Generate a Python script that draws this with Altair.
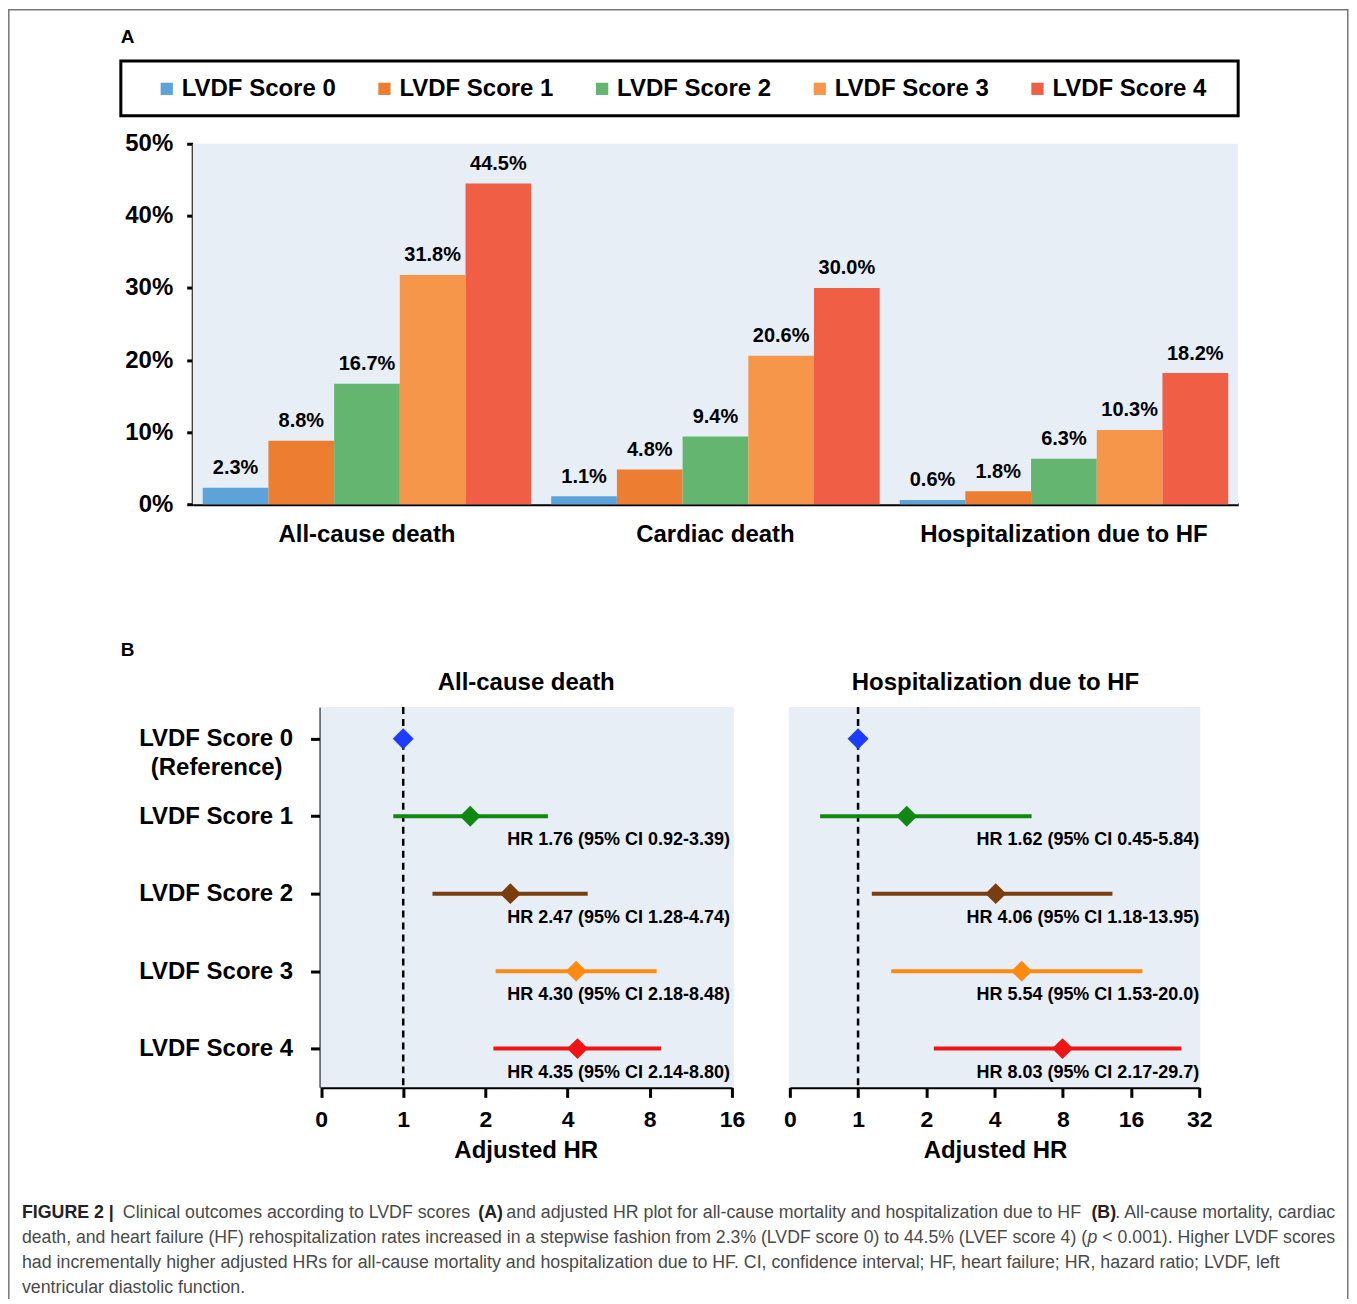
import json
import altair as alt
import pandas as pd

# ---------------- data ----------------
outcomes = ["All-cause death", "Cardiac death", "Hospitalization due to HF"]
scores = ["LVDF Score 0", "LVDF Score 1", "LVDF Score 2", "LVDF Score 3", "LVDF Score 4"]
rate_allcause = [2.3, 8.8, 16.7, 31.8, 44.5]
rate_cardiac = [1.1, 4.8, 9.4, 20.6, 30.0]
rate_hosp = [0.6, 1.8, 6.3, 10.3, 18.2]
y_ticks_pct = [0, 10, 20, 30, 40, 50]

rows = [0, 1, 2, 3, 4]
acd_hr = [1.0, 1.76, 2.47, 4.30, 4.35]
acd_lo = [None, 0.92, 1.28, 2.18, 2.14]
acd_hi = [None, 3.39, 4.74, 8.48, 8.80]
acd_text = ["", "HR 1.76 (95% CI 0.92-3.39)", "HR 2.47 (95% CI 1.28-4.74)",
            "HR 4.30 (95% CI 2.18-8.48)", "HR 4.35 (95% CI 2.14-8.80)"]
hf_hr = [1.0, 1.64, 4.05, 5.27, 7.98]
hf_lo = [None, 0.68, 1.15, 1.40, 2.16]
hf_hi = [None, 5.83, 13.25, 17.96, 26.7]
hf_text = ["", "HR 1.62 (95% CI 0.45-5.84)", "HR 4.06 (95% CI 1.18-13.95)",
           "HR 5.54 (95% CI 1.53-20.0)", "HR 8.03 (95% CI 2.17-29.7)"]
x_ticks_acd = [0.5, 1, 2, 4, 8, 16]
x_ticks_hf = [0.5, 1, 2, 4, 8, 16, 32]

caption_1 = ["FIGURE 2 |", "Clinical outcomes according to LVDF scores", "(A)",
             "and adjusted HR plot for all-cause mortality and hospitalization due to HF", "(B)",
             ". All-cause mortality, cardiac"]
caption_2 = ["death, and heart failure (HF) rehospitalization rates increased in a stepwise fashion from 2.3% (LVDF score 0) to 44.5% (LVEF score 4) (",
             "p", "< 0.001). Higher LVDF scores"]
caption_3 = "had incrementally higher adjusted HRs for all-cause mortality and hospitalization due to HF. CI, confidence interval; HF, heart failure; HR, hazard ratio; LVDF, left"
caption_4 = "ventricular diastolic function."

bar_colors = ["#5ba3d9", "#ed7d31", "#63b56f", "#f5964a", "#ef5e45"]
forest_colors = ["#1c3cff", "#118811", "#7a3d0e", "#ff8a12", "#f01414"]
BG = "#e8eef6"
FONT = "Liberation Sans"

# ---------------- tables ----------------
bar_rows = []
for o, vals in zip(outcomes, [rate_allcause, rate_cardiac, rate_hosp]):
    for s, v in zip(scores, vals):
        bar_rows.append({"outcome": o, "score": s, "rate": v, "label": f"{v:.1f}%"})
bar_df = pd.DataFrame(bar_rows)

acd_df = pd.DataFrame({"row": rows, "score": scores, "hr": acd_hr, "lo": acd_lo, "hi": acd_hi, "text": acd_text})
hf_df = pd.DataFrame({"row": rows, "score": scores, "hr": hf_hr, "lo": hf_lo, "hi": hf_hi, "text": hf_text})

# ---------------- layout helpers ----------------
W, H = 1343, 1292


def X(v):
    return v - 8


def Y(v):
    return v - 8


dummy = pd.DataFrame({"k": [0]})


def txt(s, x, y, size, weight="bold", align="left", color="black", style="normal"):
    return alt.Chart(dummy).mark_text(
        text=s, align=align, baseline="middle", fontSize=size, fontWeight=weight,
        fontStyle=style, color=color, font=FONT
    ).encode(x=alt.value(X(x)), y=alt.value(Y(y)))


def rect(x0, x1, y0, y1, fill=None, stroke=None, sw=0):
    kw = dict(fill=fill) if fill else dict(fillOpacity=0)
    if stroke:
        kw.update(stroke=stroke, strokeWidth=sw)
    return alt.Chart(dummy).mark_rect(**kw).encode(
        x=alt.value(X(x0)), x2=alt.value(X(x1)), y=alt.value(Y(y0)), y2=alt.value(Y(y1)))


layers = []

# outer frame
layers.append(alt.Chart(dummy).mark_rule(color="#777777", strokeWidth=1.5).encode(
    x=alt.value(0.8), y=alt.value(0), y2=alt.value(H)))
layers.append(alt.Chart(dummy).mark_rule(color="#777777", strokeWidth=1.5).encode(
    x=alt.value(0.8), x2=alt.value(W - 1.2), y=alt.value(0.8)))
layers.append(alt.Chart(dummy).mark_rule(color="#777777", strokeWidth=1.5).encode(
    x=alt.value(W - 1.2), y=alt.value(0), y2=alt.value(H)))

# ---------------- panel A ----------------
layers.append(txt("A", 121, 36, 19))
layers.append(rect(121, 1240, 60, 115, stroke="black", sw=3))
layers.append(rect(193, 1240, 143, 504, fill=BG))

xb = alt.Scale(domain=outcomes, range=[X(193), X(1240)], paddingInner=0.0573, paddingOuter=0.0287)
xo = alt.Scale(domain=scores, paddingInner=0, paddingOuter=0)
xo_text = alt.Scale(type="point", domain=scores, padding=0.5)
yb = alt.Scale(domain=[0, 50], range=[Y(504), Y(143)], nice=False, zero=True)

bars = alt.Chart(bar_df).mark_bar().encode(
    x=alt.X("outcome:N", scale=xb, sort=outcomes, axis=alt.Axis(
        orient="bottom", offset=Y(504) - H, title=None, labelAngle=0, labelFontSize=24,
        labelFontWeight="bold", labelColor="black", labelPadding=18, ticks=False, tickSize=0,
        domainWidth=3, domainColor="black", labelLimit=500)),
    xOffset=alt.XOffset("score:N", scale=xo, sort=scores),
    y=alt.Y("rate:Q", scale=yb, axis=alt.Axis(
        orient="left", offset=-X(193), values=y_ticks_pct, labelExpr="datum.value + '%'",
        title=None, tickSize=6, tickWidth=3, domainWidth=3, labelPadding=14,
        labelFontSize=24, labelFontWeight="bold")),
    color=alt.Color("score:N", scale=alt.Scale(domain=scores, range=bar_colors), legend=alt.Legend(
        orient="none", legendX=X(155), legendY=Y(88) - 12, direction="horizontal", columns=5,
        title=None, symbolType="square", symbolSize=150, symbolStrokeWidth=0,
        labelFontSize=24, labelFontWeight="bold", labelColor="black", labelFont=FONT,
        labelOffset=3, columnPadding=36, labelLimit=400, padding=0)),
)
bar_labels = alt.Chart(bar_df).mark_text(
    dy=-19.5, baseline="middle", fontSize=20, fontWeight="bold", color="black", font=FONT
).encode(
    x=alt.X("outcome:N", scale=xb, sort=outcomes, axis=None),
    xOffset=alt.XOffset("score:N", scale=xo_text, sort=scores),
    y=alt.Y("rate:Q", scale=yb, axis=None),
    text="label:N",
)
layers += [bars, bar_labels]

# ---------------- panel B ----------------
layers.append(txt("B", 121, 650, 19))
layers.append(rect(321, 735, 707, 1088, fill=BG))
layers.append(rect(790, 1202, 707, 1088, fill=BG))
layers.append(txt("All-cause death", 527, 683, 24, align="center"))
layers.append(txt("Hospitalization due to HF", 997, 683, 24, align="center"))
layers.append(txt("Adjusted HR", 527, 1152, 24, align="center"))
layers.append(txt("Adjusted HR", 997, 1152, 24, align="center"))

yl = alt.Scale(domain=[-0.41, 4.5], range=[Y(707), Y(1088)], nice=False, zero=False)
xl = alt.Scale(type="log", base=2, domain=[0.5, 16], range=[X(321.5), X(733)], nice=False)
xr = alt.Scale(type="log", base=2, domain=[0.5, 32], range=[X(791), X(1201)], nice=False)
fcol = alt.Scale(domain=scores, range=forest_colors)

tick_expr = "datum.value < 0.9 ? '0' : format(datum.value, 'd')"
row_expr = json.dumps(scores) + "[datum.value]"


def xaxis(values):
    return alt.Axis(orient="bottom", offset=Y(1088) - H, values=values, labelExpr=tick_expr,
                    title=None, tickSize=10, tickWidth=3, domainWidth=3, labelPadding=11,
                    labelFontSize=23, labelFontWeight="bold", labelFlush=False, labelOverlap=False)


yaxis_left = alt.Axis(orient="left", offset=-X(321), values=rows, labelExpr=row_expr,
                      labelAlign="center", labelBaseline="middle", labelPadding=95, tickSize=10,
                      tickWidth=3, domainWidth=3, labelFontSize=24, labelFontWeight="bold",
                      title=None, labelLimit=400)


def forest(df, xs, xticks, yaxis, label_x):
    ref = alt.Chart(df).transform_filter("datum.row == 0").mark_rule(
        strokeDash=[7, 5], strokeWidth=2.5, color="black"
    ).encode(x=alt.X("hr:Q", scale=xs, axis=None), y=alt.value(Y(707)), y2=alt.value(Y(1088)))
    ci = alt.Chart(df).transform_filter("isValid(datum.lo)").mark_rule(strokeWidth=4).encode(
        x=alt.X("lo:Q", scale=xs, axis=xaxis(xticks)),
        x2="hi:Q",
        y=alt.Y("row:Q", scale=yl, axis=yaxis),
        color=alt.Color("score:N", scale=fcol, legend=None),
    )
    pts = alt.Chart(df).mark_point(shape="diamond", filled=True, size=440, opacity=1).encode(
        x=alt.X("hr:Q", scale=xs, axis=None),
        y=alt.Y("row:Q", scale=yl, axis=None),
        color=alt.Color("score:N", scale=fcol, legend=None),
    )
    lab = alt.Chart(df).transform_filter("datum.row > 0").mark_text(
        align="right", baseline="middle", dy=24, fontSize=18, fontWeight="bold",
        color="black", font=FONT
    ).encode(x=alt.value(X(label_x)), y=alt.Y("row:Q", scale=yl, axis=None), text="text:N")
    return [ref, ci, pts, lab]


layers += forest(acd_df, xl, x_ticks_acd, yaxis_left, 731)
layers += forest(hf_df, xr, x_ticks_hf, None, 1201)
layers.append(alt.Chart(acd_df).transform_filter("datum.row == 0").mark_text(
    text="(Reference)", align="center", baseline="middle", dy=29, fontSize=24,
    fontWeight="bold", color="black", font=FONT
).encode(x=alt.value(X(217)), y=alt.Y("row:Q", scale=yl, axis=None)))

# ---------------- caption ----------------
CAP = 17.8
CC = "#4a4a4a"
DK = "#222222"
L1, L2, L3, L4 = 1214, 1239, 1264, 1289
layers.append(txt(caption_1[0], 22, L1, CAP, color=DK))
layers.append(txt(caption_1[1], 123, L1, CAP, weight="normal", color=CC))
layers.append(txt(caption_1[2], 479, L1, CAP, color=DK))
layers.append(txt(caption_1[3], 507, L1, CAP, weight="normal", color=CC))
layers.append(txt(caption_1[4], 1093, L1, CAP, color=DK))
layers.append(txt(caption_1[5], 1117, L1, CAP, weight="normal", color=CC))
layers.append(txt(caption_2[0], 22, L2, 17.7, weight="normal", color=CC))
layers.append(txt(caption_2[1], 1089, L2, 17.7, weight="normal", color=CC, style="italic"))
layers.append(txt(caption_2[2], 1104, L2, 17.7, weight="normal", color=CC))
layers.append(txt(caption_3, 22, L3, CAP, weight="normal", color=CC))
layers.append(txt(caption_4, 22, L4, CAP, weight="normal", color=CC))

chart = alt.layer(*layers).resolve_scale(
    x="independent", y="independent", color="independent", xOffset="independent"
).properties(
    width=W, height=H, padding=0, autosize=alt.AutoSizeParams(type="none")
).configure(font=FONT).configure_view(stroke=None).configure_axis(
    grid=False, labelFont=FONT, labelColor="black", domainColor="black", tickColor="black"
)

chart.save("out.html", embed_options={"renderer": "svg", "actions": False})
